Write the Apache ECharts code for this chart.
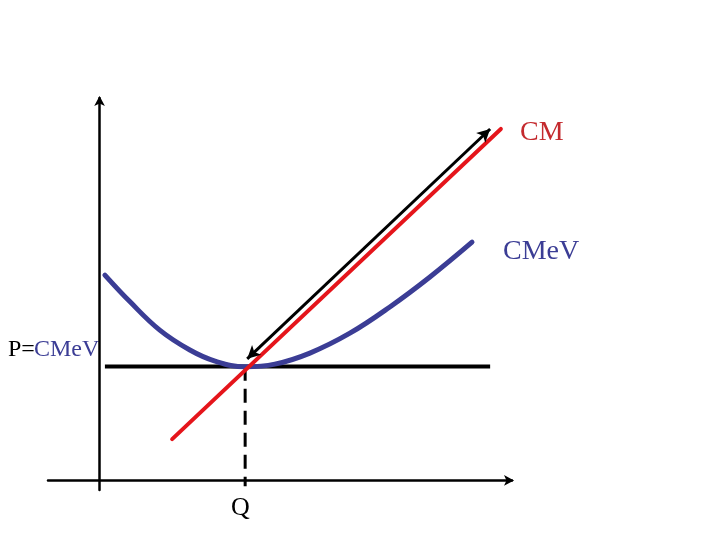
<!DOCTYPE html>
<html>
<head>
<meta charset="utf-8">
<script src="https://cdn.jsdelivr.net/npm/echarts@6/dist/echarts.min.js"></script>
<style>html,body{margin:0;padding:0;background:#fff}#c{width:720px;height:540px}</style>
</head>
<body>
<div id="c"></div>
<script>
// Quantity (x) and cost/price (y) values, in abstract units
const cmQ = [1.76, 9.73];
const cmV = [1.08, 9.19];
const cmevQ = [0.13, 0.74, 1.46, 2.19, 2.80, 3.53, 4.25, 5.10, 6.07, 7.03, 8.01, 9.03];
const cmevV = [5.37, 4.67, 3.93, 3.41, 3.12, 2.97, 3.04, 3.33, 3.85, 4.53, 5.32, 6.23];
const priceQ = [0.13, 9.47];
const priceP = 2.98;
const qStar = 3.53;
const qStarV = [2.97, -0.15];
const arrowQ = [3.58, 9.47];
const arrowV = [3.18, 9.19];
const labels = { cm: 'CM', cmev: 'CMeV', pLeft: 'P=', pRight: 'CMeV', q: 'Q' };

const chart = echarts.init(document.getElementById('c'));
const zip = (a, b) => a.map((v, i) => [v, b[i]]);
const FONT = '"Liberation Serif", "Times New Roman", serif';

chart.setOption({
  animation: false,
  backgroundColor: '#ffffff',
  grid: { left: 48, top: 98, width: 464, height: 392 },
  xAxis: {
    type: 'value', min: -1.25, max: 10,
    axisLine: { show: true, onZero: true, symbol: ['none', 'arrow'], symbolSize: [8, 10], symbolOffset: [0, 2],
      lineStyle: { color: '#000', width: 2.5 } },
    axisTick: { show: false }, axisLabel: { show: false }, splitLine: { show: false }
  },
  yAxis: {
    type: 'value', min: -0.25, max: 10,
    axisLine: { show: true, onZero: true, symbol: ['none', 'arrow'], symbolSize: [8, 10], symbolOffset: [0, 2],
      lineStyle: { color: '#000', width: 2.5 } },
    axisTick: { show: false }, axisLabel: { show: false }, splitLine: { show: false }
  },
  series: [
    {
      type: 'line', data: zip([qStar, qStar], qStarV), symbol: 'none', z: 1,
      lineStyle: { color: '#000', width: 3, type: [14, 8] }
    },
    {
      type: 'line', data: zip(priceQ, [priceP, priceP]), symbol: 'none', z: 2,
      lineStyle: { color: '#000', width: 4 }
    },
    {
      type: 'line', data: zip(cmevQ, cmevV), symbol: 'none', smooth: 0.4, z: 3,
      lineStyle: { color: '#3b3d95', width: 5, cap: 'round' }
    },
    {
      type: 'line', data: zip(cmQ, cmV), symbol: 'none', z: 4,
      lineStyle: { color: '#e5151b', width: 4, cap: 'round' }
    },
    {
      type: 'line', data: [], z: 5,
      markLine: {
        silent: true, symbol: ['arrow', 'arrow'], symbolSize: [10, 13],
        label: { show: false },
        lineStyle: { color: '#000', width: 3, type: 'solid' },
        data: [[{ coord: [arrowQ[0], arrowV[0]] }, { coord: [arrowQ[1], arrowV[1]] }]]
      }
    }
  ],
  graphic: [
    { type: 'text', left: 520, top: 119, style: { text: labels.cm, fill: '#c42a2e', font: '28px ' + FONT } },
    { type: 'text', left: 503, top: 238, style: { text: labels.cmev, fill: '#3b3d95', font: '28px ' + FONT } },
    { type: 'text', left: 8, top: 338, style: { text: labels.pLeft, fill: '#000', font: '24px ' + FONT } },
    { type: 'text', left: 34, top: 338, style: { text: labels.pRight, fill: '#3b3d95', font: '24px ' + FONT } },
    { type: 'text', left: 231, top: 495, style: { text: labels.q, fill: '#000', font: '26px ' + FONT } }
  ]
});
</script>
</body>
</html>
